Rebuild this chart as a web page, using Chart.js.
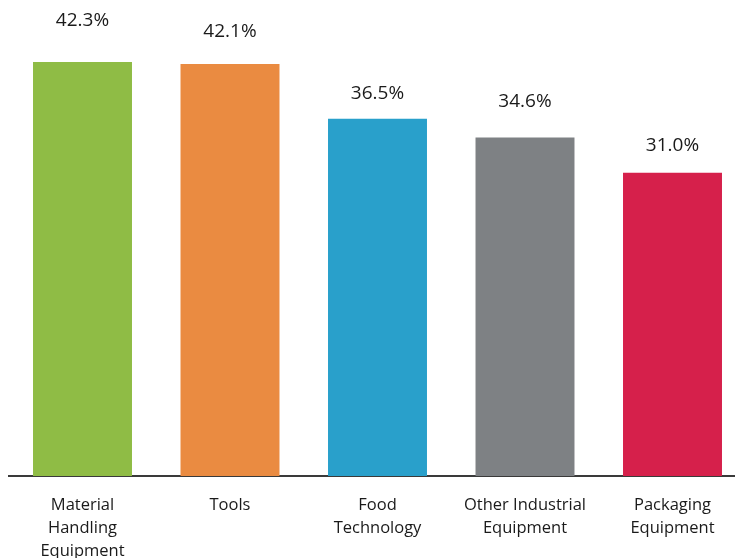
<!DOCTYPE html>
<html>
<head>
<meta charset="utf-8">
<script src="https://cdn.jsdelivr.net/npm/chart.js@4/dist/chart.umd.min.js"></script>
<style>
  html, body { margin: 0; padding: 0; background: #fff; overflow: hidden; }
  #chart { display: block; }
</style>
</head>
<body>
<canvas id="chart" width="760" height="558"></canvas>
<script>
// share of respondents by equipment segment (%)
const categories = [
    ['Material', 'Handling', 'Equipment'],
    ['Tools'],
    ['Food', 'Technology'],
    ['Other Industrial', 'Equipment'],
    ['Packaging', 'Equipment']
];
const values = [42.3, 42.1, 36.5, 34.6, 31.0];
const barColors = ['#8fbc45', '#ea8b41', '#29a0cb', '#7e8184', '#d6204b'];

// writes the value above each bar
const valueLabels = {
    id: 'valueLabels',
    afterDatasetsDraw(chart, args, opts) {
        const ctx = chart.ctx;
        const meta = chart.getDatasetMeta(0);
        ctx.save();
        ctx.font = opts.font;
        ctx.fillStyle = opts.color;
        ctx.textAlign = 'center';
        ctx.textBaseline = 'middle';
        meta.data.forEach((bar, i) => {
            const v = chart.data.datasets[0].data[i];
            ctx.fillText(v.toFixed(1) + '%', bar.x, bar.y - opts.offsets[i]);
        });
        ctx.restore();
    }
};

new Chart(document.getElementById('chart'), {
    type: 'bar',
    data: {
        labels: categories,
        datasets: [{
            data: values,
            backgroundColor: barColors,
            borderWidth: 0,
            barPercentage: 0.671,
            categoryPercentage: 1
        }]
    },
    options: {
        responsive: false,
        animation: false,
        layout: { padding: { left: 8.75, right: 13.75, top: 0, bottom: 0 } },
        plugins: {
            legend: { display: false },
            tooltip: { enabled: false },
            valueLabels: {
                font: '19px "Open Sans"',
                color: '#1a1a1a',
                offsets: [41, 32, 25.5, 35.5, 27.5]
            }
        },
        scales: {
            x: {
                grid: { display: false, drawTicks: false },
                border: { display: true, color: '#3a3a3a', width: 2 },
                ticks: {
                    autoSkip: false,
                    maxRotation: 0,
                    padding: 18,
                    color: '#1a1a1a',
                    font: { family: '"Open Sans"', size: 16.5, lineHeight: '23px' }
                },
                afterFit: scale => { scale.height = 82; }
            },
            y: {
                display: false,
                min: 0,
                max: 48.64
            }
        }
    },
    plugins: [valueLabels]
});
</script>
</body>
</html>
